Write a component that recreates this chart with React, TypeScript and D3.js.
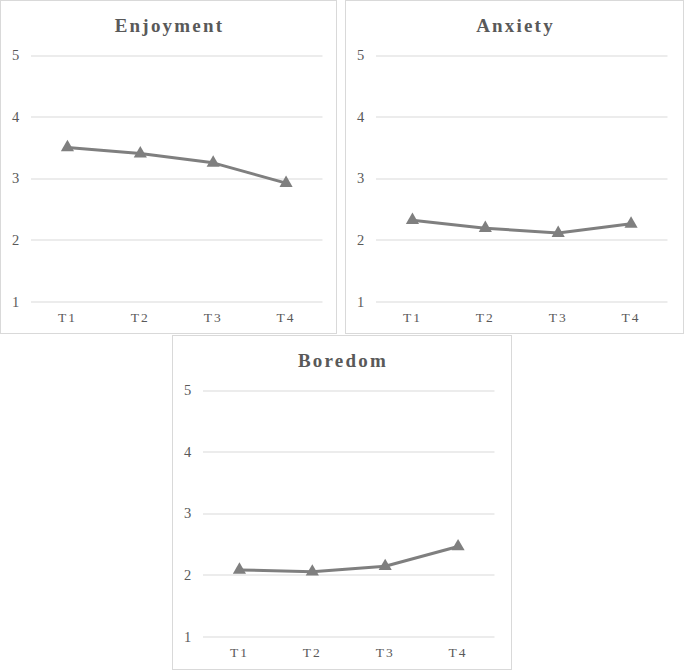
import React, { useRef, useEffect } from 'react';
import * as d3 from 'd3';

const waves = ['T1', 'T2', 'T3', 'T4'];
const yTicks = [1, 2, 3, 4, 5];
const enjoyment = [3.5, 3.4, 3.25, 2.92];
const anxiety = [2.32, 2.19, 2.11, 2.26];
const boredom = [2.08, 2.05, 2.14, 2.46];

interface PanelSpec {
  title: string;
  values: number[];
  box: [number, number, number, number]; // x, y, w, h
}

const panels: PanelSpec[] = [
  { title: 'Enjoyment', values: enjoyment, box: [0.5, 0.5, 336, 333] },
  { title: 'Anxiety', values: anxiety, box: [345.5, 0.5, 338, 333] },
  { title: 'Boredom', values: boredom, box: [172.5, 335.5, 339, 334] },
];

const App: React.FC = () => {
  const svgRef = useRef<SVGSVGElement>(null);

  useEffect(() => {
    if (!svgRef.current) return;
    const svg = d3.select(svgRef.current);
    svg.selectAll('*').remove();

    const font = '"Liberation Serif", "Times New Roman", serif';
    const textColor = '#595959';

    panels.forEach(p => {
      const [bx, by, bw, bh] = p.box;
      const g = svg.append('g').attr('transform', `translate(${bx},${by})`);

      g.append('rect')
        .attr('width', bw)
        .attr('height', bh)
        .attr('fill', '#fff')
        .attr('stroke', '#d9d9d9')
        .attr('stroke-width', 1);

      // plot area inside the panel
      const left = 30.5;
      const right = 322;
      const top = 54.5;
      const bottom = 301;

      const x = d3.scaleBand<string>().domain(waves).range([left, right]);
      const y = d3.scaleLinear().domain([1, 5]).range([bottom, top]);

      g.append('text')
        .attr('x', bw / 2 + 1)
        .attr('y', 31)
        .attr('text-anchor', 'middle')
        .style('font-family', font)
        .style('font-size', '19px')
        .style('font-weight', 'bold')
        .style('letter-spacing', '2.2px')
        .style('fill', textColor)
        .text(p.title);

      g.append('g')
        .selectAll('line')
        .data(yTicks)
        .join('line')
        .attr('x1', left)
        .attr('x2', right)
        .attr('y1', d => Math.round(y(d)) + 0.5)
        .attr('y2', d => Math.round(y(d)) + 0.5)
        .attr('stroke', '#d9d9d9')
        .attr('stroke-width', 1);

      g.append('g')
        .selectAll('text')
        .data(yTicks)
        .join('text')
        .attr('x', 15)
        .attr('y', d => y(d))
        .attr('dy', '0.35em')
        .attr('text-anchor', 'middle')
        .style('font-family', font)
        .style('font-size', '14.5px')
        .style('fill', textColor)
        .text(d => String(d));

      g.append('g')
        .selectAll('text')
        .data(waves)
        .join('text')
        .attr('x', d => (x(d) ?? 0) + x.bandwidth() / 2)
        .attr('y', bottom + 20)
        .attr('text-anchor', 'middle')
        .style('font-family', font)
        .style('font-size', '13.5px')
        .style('letter-spacing', '2px')
        .style('fill', textColor)
        .text(d => d);

      const pts = p.values.map((v, i) => [(x(waves[i]) ?? 0) + x.bandwidth() / 2, y(v)] as [number, number]);

      g.append('path')
        .attr('d', d3.line()(pts))
        .attr('fill', 'none')
        .attr('stroke', '#7f7f7f')
        .attr('stroke-width', 3)
        .attr('stroke-linejoin', 'round')
        .attr('stroke-linecap', 'round');

      g.append('g')
        .selectAll('path')
        .data(pts)
        .join('path')
        .attr('transform', d => `translate(${d[0]},${d[1]})`)
        .attr('d', d3.symbol(d3.symbolTriangle, 75)())
        .attr('fill', '#7f7f7f');
    });
  }, []);

  return (
    <div style={{ position: 'absolute', left: 0, top: 0, width: 685, height: 670, background: '#fff' }}>
      <svg ref={svgRef} width={685} height={670}></svg>
    </div>
  );
};

export default App;
